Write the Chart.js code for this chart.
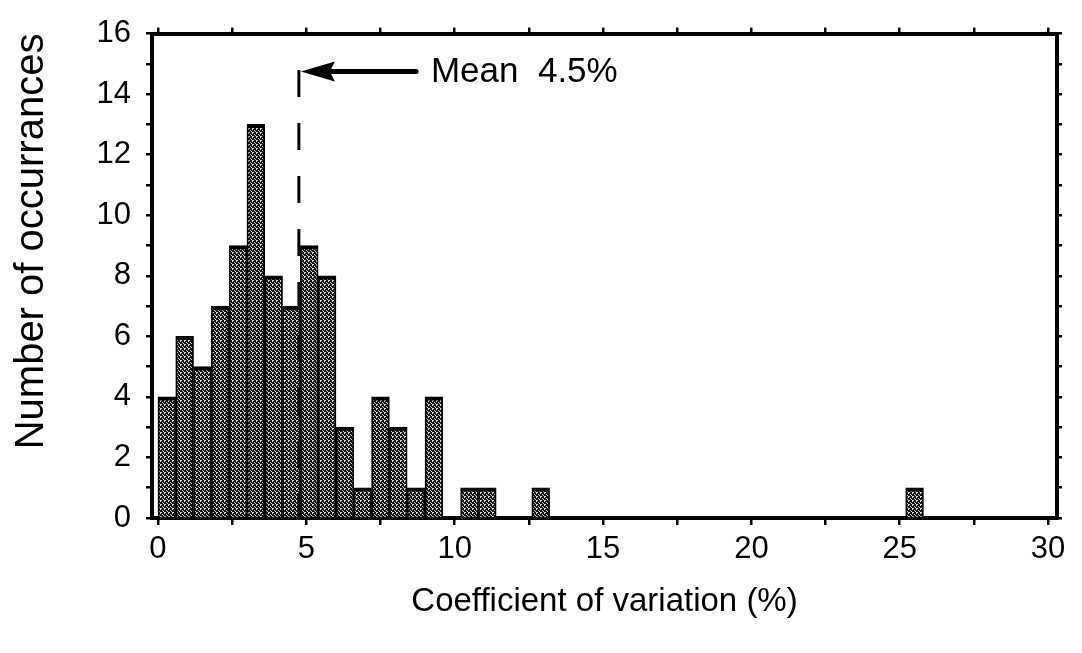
<!DOCTYPE html>
<html>
<head>
<meta charset="utf-8">
<script src="https://cdn.jsdelivr.net/npm/chart.js@4/dist/chart.umd.min.js"></script>
<style>
  html, body { margin: 0; padding: 0; background: #fff; }
  #wrap { width: 1082px; height: 653px; }
</style>
</head>
<body>
<div id="wrap"><canvas id="cvChart" width="1082" height="653"></canvas></div>
<script>
// histogram bins (left edge of each bin, bin width 0.6 %)
const binWidth = 0.6;
const binStart = [0, 0.6, 1.2, 1.8, 2.4, 3.0, 3.6, 4.2, 4.8, 5.4, 6.0, 6.6, 7.2, 7.8, 8.4, 9.0, 10.2, 10.8, 12.6, 25.2];
const binCounts = [4, 6, 5, 7, 9, 13, 8, 7, 9, 8, 3, 1, 4, 3, 1, 4, 1, 1, 1, 1];

const xTickValues = [0, 2.5, 5, 7.5, 10, 12.5, 15, 17.5, 20, 22.5, 25, 27.5, 30];
const xTickLabels = [0, 5, 10, 15, 20, 25, 30];
const yTickValues = [0, 1, 2, 3, 4, 5, 6, 7, 8, 9, 10, 11, 12, 13, 14, 15, 16];
const yTickLabels = [0, 2, 4, 6, 8, 10, 12, 14, 16];

const meanText = 'Mean  4.5%';
const meanLineX = 4.75;   // where the dashed line sits in the picture
const meanTopY = 14.8;
const arrowEndX = 8.7;
const arrowY = 14.75;
const meanTextX = 9.2;

const FONT = '"Liberation Sans", Arial, Helvetica, sans-serif';

// stippled fill like the scanned bars
function makeStipple() {
  const c = document.createElement('canvas');
  c.width = 4; c.height = 4;
  const g = c.getContext('2d');
  g.fillStyle = '#141414';
  g.fillRect(0, 0, 4, 4);
  g.fillStyle = '#d8d8d8';
  [[0, 0], [1, 0], [0, 1], [2, 2], [3, 3]].forEach(p => g.fillRect(p[0], p[1], 1, 1));
  return g.createPattern(c, 'repeat');
}

const meanMarker = {
  id: 'meanMarker',
  afterDatasetsDraw(chart) {
    const ctx = chart.ctx;
    const xs = chart.scales.x, ys = chart.scales.y;
    const px = xs.getPixelForValue(meanLineX);
    ctx.save();
    ctx.strokeStyle = '#000';
    ctx.lineWidth = 3;
    ctx.setLineDash([27, 26]);
    ctx.beginPath();
    ctx.moveTo(px, ys.getPixelForValue(meanTopY));
    ctx.lineTo(px, ys.getPixelForValue(0));
    ctx.stroke();
    ctx.setLineDash([]);

    const ay = ys.getPixelForValue(arrowY);
    const ax2 = xs.getPixelForValue(arrowEndX);
    ctx.lineWidth = 5;
    ctx.lineCap = 'round';
    ctx.beginPath();
    ctx.moveTo(px + 20, ay);
    ctx.lineTo(ax2, ay);
    ctx.stroke();
    ctx.fillStyle = '#000';
    ctx.beginPath();
    ctx.moveTo(px + 2, ay);
    ctx.lineTo(px + 36, ay - 10);
    ctx.lineTo(px + 31, ay);
    ctx.lineTo(px + 36, ay + 10);
    ctx.closePath();
    ctx.fill();

    ctx.font = '35px ' + FONT;
    ctx.textAlign = 'left';
    ctx.textBaseline = 'middle';
    ctx.fillText(meanText, xs.getPixelForValue(meanTextX), ay + 1);
    ctx.restore();
  }
};

const tickGrid = len => ({ drawOnChartArea: false, drawTicks: true, tickLength: len, color: '#000', lineWidth: 2.5, offset: false });
const frame = { display: true, color: '#000', width: 4 };

new Chart(document.getElementById('cvChart'), {
  type: 'bar',
  data: {
    datasets: [{
      data: binStart.map((s, i) => ({ x: s + binWidth / 2, y: binCounts[i] })),
      backgroundColor: makeStipple(),
      borderColor: '#000',
      borderWidth: { top: 4, left: 1.8, right: 1.8, bottom: 0 },
      borderSkipped: false,
      barPercentage: 1,
      categoryPercentage: 1,
      xAxisID: 'x',
      yAxisID: 'y'
    }]
  },
  plugins: [meanMarker],
  options: {
    responsive: false,
    animation: false,
    layout: { padding: 0 },
    plugins: { legend: { display: false }, tooltip: { enabled: false } },
    scales: {
      x: {
        type: 'linear', axis: 'x', position: 'bottom', offset: false,
        min: -0.2, max: 30.3,
        border: frame,
        grid: tickGrid(7),
        afterBuildTicks: s => { s.ticks = xTickValues.map(v => ({ value: v })); },
        afterFit: s => { s.height = 135; },
        ticks: {
          autoSkip: false, maxRotation: 0, padding: 6, color: '#000',
          font: { family: FONT, size: 31 },
          callback: v => xTickLabels.includes(v) ? String(v) : ''
        },
        title: {
          display: true, text: 'Coefficient of variation (%)', color: '#000',
          font: { family: FONT, size: 33 }, padding: { top: 0, bottom: 31 }
        }
      },
      x2: {
        type: 'linear', axis: 'x', position: 'top', offset: false,
        min: -0.2, max: 30.3,
        border: frame,
        grid: tickGrid(6),
        afterBuildTicks: s => { s.ticks = xTickValues.map(v => ({ value: v })); },
        afterFit: s => { s.height = 27; },
        ticks: { display: false }
      },
      y: {
        type: 'linear', axis: 'y', position: 'left',
        min: 0, max: 16,
        border: frame,
        grid: tickGrid(6),
        afterBuildTicks: s => { s.ticks = yTickValues.map(v => ({ value: v })); },
        afterFit: s => { s.width = 152; },
        ticks: {
          autoSkip: false, padding: 15, color: '#000',
          font: { family: FONT, size: 31 },
          callback: v => yTickLabels.includes(v) ? String(v) : ''
        },
        title: {
          display: true, text: 'Number of occurrances', color: '#000', align: 'end',
          font: { family: FONT, size: 40 }, padding: { top: 8, bottom: 0 }
        }
      },
      y2: {
        type: 'linear', axis: 'y', position: 'right',
        min: 0, max: 16,
        border: frame,
        grid: tickGrid(5),
        afterBuildTicks: s => { s.ticks = yTickValues.map(v => ({ value: v })); },
        afterFit: s => { s.width = 25; },
        ticks: { display: false }
      }
    }
  }
});
</script>
</body>
</html>
